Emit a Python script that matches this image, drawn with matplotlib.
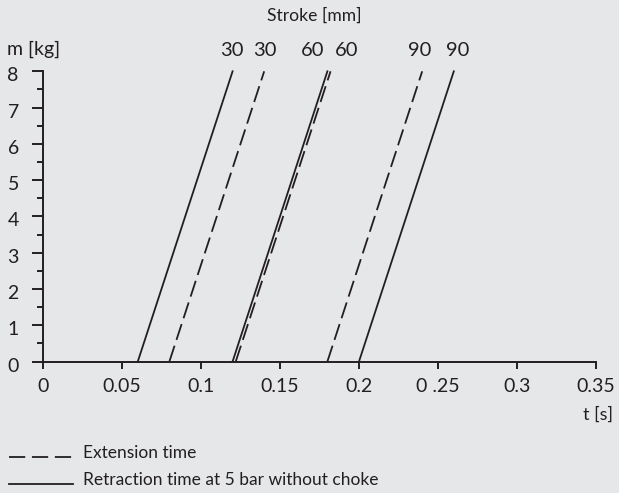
import matplotlib
matplotlib.use("Agg")
import matplotlib.pyplot as plt
from matplotlib.lines import Line2D
from matplotlib.ticker import MultipleLocator, FixedLocator
from matplotlib.transforms import ScaledTranslation, blended_transform_factory

# Stroke lengths [mm] and mass range [kg]
strokes = [30, 60, 90]
mass = [0, 8]

# Extension time [s] at m = 0 kg and m = 8 kg (dashed)
ext_t_start = [0.08, 0.122, 0.18]
ext_t_end = [0.14, 0.182, 0.24]

# Retraction time at 5 bar without choke [s] (solid)
ret_t_start = [0.06, 0.12, 0.20]
ret_t_end = [0.12, 0.18, 0.26]

x_ticks = [0, 0.05, 0.1, 0.15, 0.2, 0.25, 0.3, 0.35]
x_tick_labels = ["0", "0.05", "0.1", "0.15", "0.2", "0 .25", "0.3", "0.35"]
y_ticks = [0, 1, 2, 3, 4, 5, 6, 7, 8]

# Stroke labels above the line tops (label text, x position in data units)
stroke_labels = ["30", "30", "60", "60", "90", "90"]
stroke_label_x = [0.1196, 0.1405, 0.1709, 0.1924, 0.2386, 0.2627]

BG = "#e6e7e9"
INK = "#231f20"
plt.rcParams["font.family"] = ["Lato", "DejaVu Sans"]
plt.rcParams["text.color"] = INK

W, H = 619, 493
DPI = 100
fig = plt.figure(figsize=(W / DPI, H / DPI), dpi=DPI, facecolor=BG)


def fx(px):
    return px / W


def fy(py):
    return 1 - py / H


x0, x1, y0, y1 = 43, 596, 361.5, 71.3
ax = fig.add_axes([fx(x0), fy(y0), fx(x1) - fx(x0), fy(y1) - fy(y0)])
ax.set_facecolor(BG)
ax.set_xlim(0, 0.35)
ax.set_ylim(0, 8)

lw = 1.3
dash = (9.2, 3.4)
for t0, t1 in zip(ext_t_start, ext_t_end):
    ax.plot([t0, t1], mass, color=INK, lw=lw, dashes=dash, clip_on=False)
for t0, t1 in zip(ret_t_start, ret_t_end):
    ax.plot([t0, t1], mass, color=INK, lw=lw, clip_on=False)

for spine in ("top", "right"):
    ax.spines[spine].set_visible(False)
for spine in ("left", "bottom"):
    ax.spines[spine].set_linewidth(1.4)
    ax.spines[spine].set_color(INK)

ax.xaxis.set_major_locator(FixedLocator(x_ticks))
ax.set_xticklabels(x_tick_labels)
ax.yaxis.set_major_locator(FixedLocator(y_ticks))
ax.yaxis.set_minor_locator(MultipleLocator(0.5))
ax.tick_params(axis="x", direction="out", length=4.7, width=1.4, color=INK,
               labelsize=14, labelcolor=INK, pad=7)
ax.tick_params(axis="y", which="major", direction="out", length=7.9, width=1.4,
               color=INK, labelsize=14, labelcolor=INK, pad=10)
ax.tick_params(axis="y", which="minor", direction="out", length=4.0, width=1.4,
               color=INK)

# centre the mass labels in the left margin, slightly below their ticks
shift = ScaledTranslation(-5 / DPI, -3 / DPI, fig.dpi_scale_trans)
for lab in ax.get_yticklabels():
    lab.set_transform(lab.get_transform() + shift)
    lab.set_horizontalalignment("center")

# Stroke labels
label_tf = blended_transform_factory(ax.transData, fig.transFigure)
for txt, xl in zip(stroke_labels, stroke_label_x):
    ax.text(xl, fy(51), txt, transform=label_tf, ha="center", va="center",
            fontsize=14.5, color=INK)

fig.text(fx(314), fy(16), "Stroke [mm]", ha="center", va="center", fontsize=12.6)
fig.text(fx(7), fy(49), "m [kg]", ha="left", va="center", fontsize=14)
fig.text(fx(613), fy(415), "t [s]", ha="right", va="center", fontsize=13)

# Legend
fig.add_artist(Line2D([fx(9), fx(72)], [fy(457), fy(457)], color=INK, lw=1.3,
                      dashes=(9.0, 3.7)))
fig.add_artist(Line2D([fx(9), fx(73)], [fy(483.5), fy(483.5)], color=INK, lw=1.3))
fig.text(fx(83), fy(458), "Extension time", ha="left", va="baseline", fontsize=12.5)
fig.text(fx(83), fy(485), "Retraction time at 5 bar without choke", ha="left",
         va="baseline", fontsize=12.5)

fig.savefig("out.png", dpi=DPI, facecolor=BG)
